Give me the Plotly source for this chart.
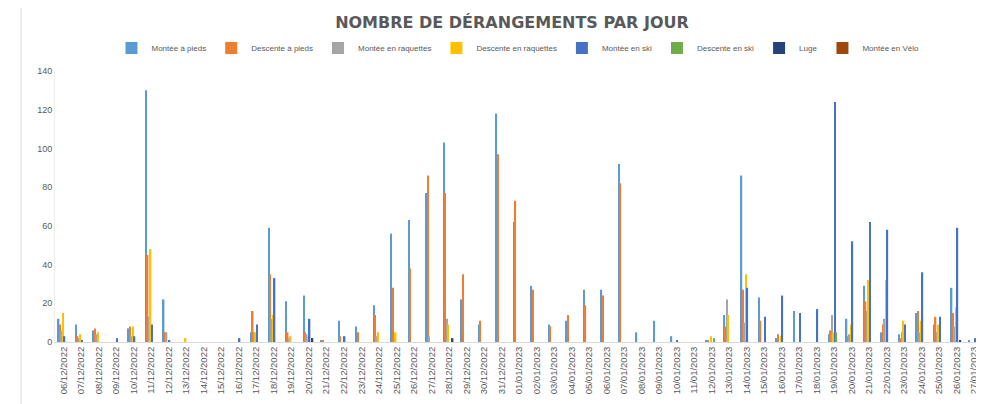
import plotly.graph_objects as go

dates = ["06/12/2022","07/12/2022","08/12/2022","09/12/2022","10/12/2022","11/12/2022","12/12/2022",
         "13/12/2022","14/12/2022","15/12/2022","16/12/2022","17/12/2022","18/12/2022","19/12/2022",
         "20/12/2022","21/12/2022","22/12/2022","23/12/2022","24/12/2022","25/12/2022","26/12/2022",
         "27/12/2022","28/12/2022","29/12/2022","30/12/2022","31/12/2022","01/01/2023","02/01/2023",
         "03/01/2023","04/01/2023","05/01/2023","06/01/2023","07/01/2023","08/01/2023","09/01/2023",
         "10/01/2023","11/01/2023","12/01/2023","13/01/2023","14/01/2023","15/01/2023","16/01/2023",
         "17/01/2023","18/01/2023","19/01/2023","20/01/2023","21/01/2023","22/01/2023","23/01/2023",
         "24/01/2023","25/01/2023","26/01/2023","27/01/2023"]

montee_pieds = [12,9,6,0,7,130,22,0,0,0,0,5,59,21,24,1,11,8,19,56,63,77,103,22,9,118,62,29,9,11,27,27,92,5,11,3,0,1,14,86,23,2,16,0,4,12,29,5,4,15,9,28,1]
descente_pieds = [9,3,7,0,8,45,5,0,0,0,0,16,35,5,5,1,3,5,14,28,38,86,77,35,11,97,73,27,8,14,19,24,82,0,0,0,0,1,8,27,11,4,0,0,6,3,21,9,2,16,13,15,0]
montee_raquettes = [6,2,4,0,3,13,5,0,0,0,0,5,12,2,4,0,0,0,3,0,0,3,12,0,0,0,0,0,0,0,0,0,0,0,0,0,0,0,22,10,0,0,0,0,14,4,16,12,5,5,5,8,0]
descente_raquettes = [15,4,5,0,8,48,0,2,0,0,0,5,14,3,3,0,0,0,5,5,0,0,9,0,0,0,0,0,0,0,0,0,0,0,0,0,0,3,14,35,0,3,0,0,5,9,32,32,11,11,9,18,0]
montee_ski = [3,1,0,2,3,9,1,0,0,0,2,9,33,0,12,0,3,0,0,0,0,0,0,0,0,0,0,0,0,0,0,0,0,0,0,1,0,0,0,28,13,24,15,17,124,52,62,58,9,36,13,59,2]
descente_ski = [0,0,0,0,0,0,0,0,0,0,0,0,0,0,0,0,0,0,0,0,0,0,0,0,0,0,0,0,0,0,0,0,0,0,0,0,0,2,0,0,0,0,0,0,5,0,0,0,0,0,0,0,0]
luge = [0,0,0,0,0,0,0,0,0,0,0,0,0,0,2,0,0,0,0,0,0,0,2,0,0,0,0,0,0,0,0,0,0,0,0,0,0,0,0,0,0,0,0,0,0,0,0,0,0,0,0,1,0]
montee_velo = [0,0,0,0,0,0,0,0,0,0,0,0,0,0,0,0,0,0,0,0,0,0,0,0,0,0,0,0,0,0,0,0,0,0,0,0,0,0,0,0,0,0,0,0,0,0,0,0,0,0,0,0,0]

series_names = ["Montée à pieds","Descente à pieds","Montée en raquettes","Descente en raquettes",
                "Montée en ski","Descente en ski","Luge","Montée en Vélo"]
series_values = [montee_pieds, descente_pieds, montee_raquettes, descente_raquettes,
                 montee_ski, descente_ski, luge, montee_velo]
colors = ["#5B9BD5","#ED7D31","#A5A5A5","#FFC000","#4472C4","#70AD47","#264478","#9E480E"]

fig = go.Figure()
for name, vals, col in zip(series_names, series_values, colors):
    fig.add_trace(go.Bar(x=dates, y=vals, name=name, marker_color=col, marker_line_width=0))

# page has an 8px body margin: figure is drawn 8px right/down of page origin
OFF = 8
W, H = 984 - OFF, 404 - OFF
ml, mr, mt, mb = 47, 1, 63, 62
pw = W - ml - mr
ph = H - mt - mb

fig.update_layout(
    width=W, height=H,
    margin=dict(l=ml, r=mr, t=mt, b=mb, autoexpand=False),
    paper_bgcolor="white", plot_bgcolor="white",
    barmode="group", bargap=0.33, bargroupgap=0,
    font=dict(family="Liberation Sans, Arial, sans-serif", color="#595959"),
    title=dict(text="NOMBRE DE DÉRANGEMENTS PAR JOUR",
               font=dict(family="DejaVu Sans", size=16, color="#595959", weight="bold"),
               x=504 / W, xanchor="center", y=1 - 14 / H, yanchor="middle"),
    legend=dict(orientation="h", x=(510 - ml) / pw, xanchor="center", y=1 + (mt - 40) / ph, yanchor="middle",
                font=dict(size=8, color="#595959"), itemwidth=30, traceorder="normal"),
    xaxis=dict(type="category", tickangle=-90, tickfont=dict(size=9.5, color="#595959"),
               showline=True, linecolor="#D9D9D9", linewidth=1, ticks="", showgrid=False,
               automargin=False),
    yaxis=dict(range=[0, 140], dtick=20, tickfont=dict(size=9, color="#595959"),
               showgrid=False, zeroline=False, showline=True, linecolor="#EDEDED", ticks="",
               automargin=False),
    shapes=[dict(type="rect", xref="paper", yref="paper",
                 x0=(13 - ml) / pw, x1=1 + mr / pw, y0=-(mb + 10) / ph, y1=1 + (mt + 3) / ph,
                 line=dict(color="#D9D9D9", width=1), fillcolor="rgba(0,0,0,0)", layer="below")],
)

fig.write_html("out.html")
